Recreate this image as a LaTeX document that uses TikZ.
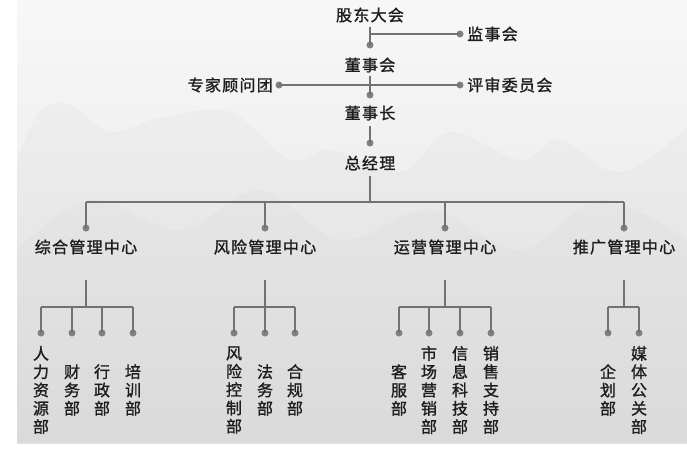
\documentclass[tikz,border=0pt]{standalone}
\usepackage{fontspec}
\newfontfamily\cjk[LetterSpace=8,FakeBold=1.3]{Noto Sans CJK SC}
\newfontfamily\cjkv[FakeBold=1.3]{Noto Sans CJK SC}
\definecolor{txt}{HTML}{1E1E1E}
\definecolor{ln}{HTML}{727272}
\definecolor{dt}{HTML}{808080}
\begin{document}
\begin{tikzpicture}[x=1pt,y=-1pt,
  lbl/.style={font=\cjk\fontsize{16}{18}\selectfont,text=txt,inner sep=0pt},
  vlbl/.style={font=\cjkv\fontsize{16}{18.3}\selectfont,text=txt,inner sep=0pt,align=center},
  conn/.style={draw=ln,line width=2.4pt},
  dotc/.style={circle,fill=dt,minimum size=7pt,inner sep=0pt}]
\useasboundingbox (0,0) rectangle (687,461);
% background
\fill[white] (0,0) rectangle (687,461);
\shade[top color=white!97!black,bottom color=white!89!black] (17,0) rectangle (687,443);
\fill[black,opacity=0.018] plot[smooth,tension=0.6] coordinates {(17,160) (40,112) (70,104) (110,132) (160,118) (230,112) (290,160) (330,150) (400,172) (450,132) (520,160) (560,140) (620,172) (687,128)} -- (687,443) -- (17,443) -- cycle;
\fill[black,opacity=0.015] plot[smooth,tension=0.6] coordinates {(17,250) (90,200) (180,230) (260,190) (340,240) (430,210) (520,250) (600,200) (687,240)} -- (687,443) -- (17,443) -- cycle;

% top chain
\node[lbl] (gd) at (370,15) {股东大会};
\node[dotc] (d1) at (370,45) {};
\coordinate (j1) at (370,34);
\node[dotc] (djs) at (460,34) {};
\node[lbl,anchor=west] (js) at (467,34) {监事会};
\draw[conn] (gd.south)++(0,4) coordinate (g0) -- (d1.center);
\draw[conn] (j1) -- (djs.center);

\node[lbl] (dsh) at (370,65) {董事会};
\node[dotc] (d2) at (370,95) {};
\coordinate (j2) at (370,85);
\node[dotc] (dzj) at (279,85) {};
\node[dotc] (dps) at (460,85) {};
\node[lbl,anchor=east] (zj) at (273,85) {专家顾问团};
\node[lbl,anchor=west] (ps) at (467,85) {评审委员会};
\draw[conn] (dsh.south)++(0,3) coordinate (s0) -- (d2.center);
\draw[conn] (dzj.center) -- (dps.center);

\node[lbl] (dsz) at (370,113) {董事长};
\node[dotc] (d3) at (370,143) {};
\draw[conn] (dsz.south)++(0,5) coordinate (z0) -- (d3.center);

\node[lbl] (zjl) at (370,163) {总经理};
\coordinate (bar) at (370,202);
\draw[conn] (zjl.south)++(0,6) coordinate (m0) -- (bar);

% centres
\foreach \n/\x/\t in {c1/86/综合管理中心,c2/265/风险管理中心,c3/445/运营管理中心,c4/624/推广管理中心}{
  \node[dotc] (d\n) at (\x,228) {};
  \node[lbl] (\n) at (\x,247) {\t};
  \coordinate (t\n) at (\x,202);
  \coordinate (s\n) at (\x,280);
  \coordinate (h\n) at (\x,307);
  \draw[conn] (t\n) -- (d\n.center);
  \draw[conn] (s\n) -- (h\n);
}
\draw[conn] (tc1) -- (tc4);

% departments
\foreach \n/\x/\t in {
  a1/41/人\\力\\资\\源\\部, a2/72/财\\务\\部, a3/102/行\\政\\部, a4/133/培\\训\\部,
  b1/234/风\\险\\控\\制\\部, b2/265/法\\务\\部, b3/295/合\\规\\部,
  e1/399/客\\服\\部, e2/429/市\\场\\营\\销\\部, e3/460/信\\息\\科\\技\\部, e4/491/销\\售\\支\\持\\部,
  f1/608/企\\划\\部, f2/639/媒\\体\\公\\关\\部}{
  \node[dotc] (d\n) at (\x,333) {};
  \node[vlbl] (\n) at (\x,390) {\t};
  \coordinate (t\n) at (\x,307);
  \draw[conn] (t\n) -- (d\n.center);
}
\draw[conn] (ta1) -- (ta4);
\draw[conn] (tb1) -- (tb3);
\draw[conn] (te1) -- (te4);
\draw[conn] (tf1) -- (tf2);
\end{tikzpicture}
\end{document}
